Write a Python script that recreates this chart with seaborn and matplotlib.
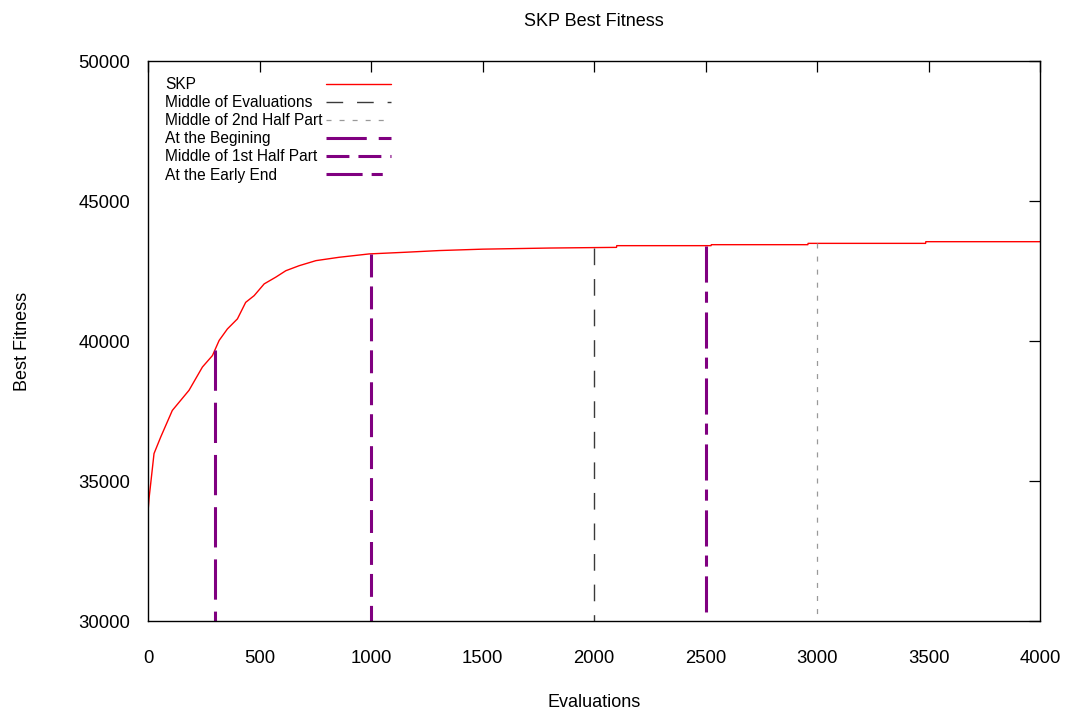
import numpy as np
import pandas as pd
import matplotlib
matplotlib.use("Agg")
import matplotlib.pyplot as plt
import seaborn as sns

# ---- data ----
evaluations = [0, 0.5, 5, 12, 27, 57, 109, 184, 244, 289, 319, 356, 401, 438, 476,
               521, 573, 618, 678, 753, 857, 992, 1156, 1306, 1500, 1800, 2101,
               2102, 2525, 2526, 2959, 2960, 3487, 3488, 4000]
best_fitness = [32100, 33950, 34400, 34900, 35980, 36570, 37520, 38240, 39070,
                39480, 40020, 40430, 40790, 41380, 41620, 42040, 42280, 42510,
                42690, 42870, 42990, 43110, 43170, 43230, 43280, 43320, 43344,
                43405, 43405, 43440, 43440, 43487, 43487, 43547, 43547]
marker_labels = ["Middle of Evaluations", "Middle of 2nd Half Part",
                 "At the Begining", "Middle of 1st Half Part", "At the Early End"]
marker_x = [2000, 3000, 300, 1000, 2500]
x_ticks = [0, 500, 1000, 1500, 2000, 2500, 3000, 3500, 4000]
y_ticks = [30000, 35000, 40000, 45000, 50000]

sns.set_theme(style="white")
plt.rcParams["font.family"] = ["Liberation Sans", "DejaVu Sans"]
plt.rcParams["lines.scale_dashes"] = False

fig = plt.figure(figsize=(10.76, 7.13), dpi=100)
ax = fig.add_axes([148 / 1076, 1 - 621 / 713, (1040 - 148) / 1076, (621 - 61) / 713])

df = pd.DataFrame({"Evaluations": evaluations, "Best Fitness": best_fitness})
sns.lineplot(data=df, x="Evaluations", y="Best Fitness", ax=ax, color="#ff0000",
             linewidth=1.0, label="SKP", estimator=None, sort=False)

styles = {
    "Middle of Evaluations": dict(color="#3a3a3a", lw=1.0, ls=(0, (12, 10))),
    "Middle of 2nd Half Part": dict(color="#999999", lw=0.9, ls=(0, (3.6, 5.8))),
    "At the Begining": dict(color="#800080", lw=2.2, ls=(0, (29, 8.6))),
    "Middle of 1st Half Part": dict(color="#800080", lw=2.2, ls=(0, (16.5, 6.5))),
    "At the Early End": dict(color="#800080", lw=2.2, ls=(0, (26, 6.5, 8, 7))),
}
for lab, xv in zip(marker_labels, marker_x):
    top = np.interp(xv, evaluations, best_fitness)
    st = styles[lab]
    ax.plot([xv, xv], [top, y_ticks[0]], color=st["color"], lw=st["lw"],
            linestyle=st["ls"], label=lab)

ax.set_xlim(x_ticks[0], x_ticks[-1])
ax.set_ylim(y_ticks[0], y_ticks[-1])
ax.set_xticks(x_ticks)
ax.set_yticks(y_ticks)
ax.tick_params(direction="in", length=8, width=0.9, top=True, right=True,
               labelsize=13.3, colors="black")
ax.tick_params(axis="x", pad=21)
ax.tick_params(axis="y", pad=13)
for s in ax.spines.values():
    s.set_color("black")
    s.set_linewidth(1.0)
ax.set_xlabel("Evaluations", fontsize=13, labelpad=19, color="black")
ax.set_ylabel("Best Fitness", fontsize=13, labelpad=34, color="black")
fig.suptitle("SKP Best Fitness", x=594 / 1076, y=1 - 13 / 713, va="top",
             fontsize=13, color="black")

handles, labels = ax.get_legend_handles_labels()
anchor = (17 / 892, 1 - 16 / 560)
common = dict(loc="upper left", frameon=False, fontsize=11.2, labelspacing=0.2,
              borderpad=0, borderaxespad=0, bbox_to_anchor=anchor)
# handles aligned on the right (text hidden)
leg1 = ax.legend(handles, labels, markerfirst=False, handlelength=4.2,
                 handletextpad=0.2, **common)
for t in leg1.get_texts():
    t.set_visible(False)
ax.add_artist(leg1)
# text left-aligned (handles zero length)
leg2 = ax.legend(handles, labels, markerfirst=True, handlelength=0,
                 handletextpad=0, **common)
for h in leg2.get_lines():
    h.set_visible(False)
for t in leg2.get_texts():
    t.set_color("black")

fig.savefig("out.png", dpi=100)
